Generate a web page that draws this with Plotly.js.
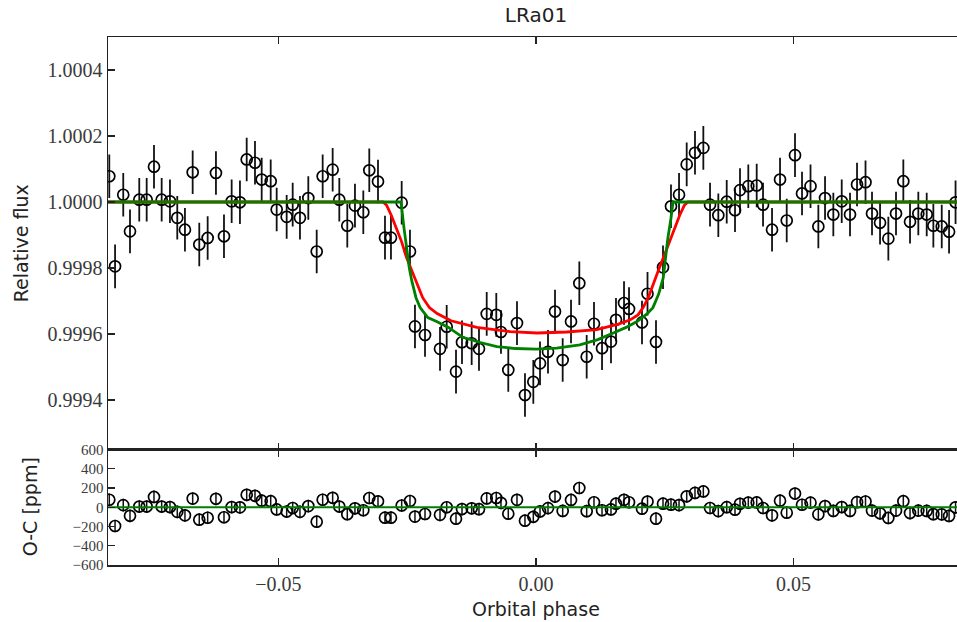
<!DOCTYPE html>
<html>
<head>
<meta charset="utf-8">
<script src="https://cdn.plot.ly/plotly-3.0.1.min.js"></script>
<style>
  html, body { margin: 0; padding: 0; overflow: hidden; background: #fff; }
  #chart { width: 964px; height: 622px; }
</style>
</head>
<body>
<div id="chart"></div>
<script>
// ---- data ----
const phase = [
  -0.08285, -0.08173, -0.08014, -0.07883, -0.07703, -0.07559, -0.07417, -0.07268, -0.07107, -0.06965,
  -0.06816, -0.06666, -0.06538, -0.06375, -0.06214, -0.06058, -0.05909, -0.05748, -0.05617, -0.05456,
  -0.05326, -0.05151, -0.05035, -0.04841, -0.04724, -0.04583, -0.04421, -0.04258, -0.04142, -0.03948,
  -0.03819, -0.03664, -0.03515, -0.03353, -0.03237, -0.03068, -0.02932, -0.02816, -0.02608, -0.02447,
  -0.02350, -0.02155, -0.01864, -0.01734, -0.01553, -0.01437, -0.01249, -0.01107, -0.00957, -0.00771,
  -0.00680, -0.00538, -0.00369, -0.00214, -0.00052, 0.00078, 0.00233, 0.00369, 0.00518, 0.00680,
  0.00841, 0.00984, 0.01126, 0.01282, 0.01456, 0.01553, 0.01709, 0.01806, 0.02058, 0.02165,
  0.02330, 0.02466, 0.02621, 0.02777, 0.02926, 0.03087, 0.03249, 0.03379, 0.03540, 0.03703,
  0.03864, 0.03961, 0.04122, 0.04285, 0.04408, 0.04583, 0.04738, 0.04868, 0.05029, 0.05165,
  0.05330, 0.05482, 0.05612, 0.05773, 0.05936, 0.06097, 0.06233, 0.06398, 0.06524, 0.06680,
  0.06841, 0.06990, 0.07132, 0.07262, 0.07423, 0.07586, 0.07715, 0.07878, 0.08020, 0.08146
];
const flux = [
  1.000078, 0.999805, 1.000022, 0.999911, 1.000007, 1.000007, 1.000107, 1.000007, 1.000002, 0.999952,
  0.999916, 1.000090, 0.999871, 0.999891, 1.000088, 0.999896, 1.000002, 0.999999, 1.000129, 1.000119,
  1.000068, 1.000063, 0.999977, 0.999955, 0.999992, 0.999952, 1.000012, 0.999850, 1.000078, 1.000098,
  1.000007, 0.999928, 0.999989, 0.999969, 1.000096, 1.000062, 0.999892, 0.999892, 0.999998, 0.999850,
  0.999623, 0.999597, 0.999555, 0.999622, 0.999486, 0.999575, 0.999572, 0.999555, 0.999661, 0.999658,
  0.999606, 0.999491, 0.999633, 0.999415, 0.999455, 0.999511, 0.999546, 0.999668, 0.999521, 0.999638,
  0.999754, 0.999531, 0.999631, 0.999557, 0.999577, 0.999643, 0.999694, 0.999676, 0.999635, 0.999722,
  0.999576, 0.999802, 0.999987, 1.000022, 1.000114, 1.000149, 1.000164, 0.999992, 0.999960, 1.000001,
  0.999975, 1.000036, 1.000048, 1.000050, 0.999992, 0.999916, 1.000068, 0.999944, 1.000142, 1.000026,
  1.000048, 0.999926, 1.000012, 0.999962, 1.000002, 0.999962, 1.000053, 1.000060, 0.999965, 0.999937,
  0.999889, 0.999965, 1.000063, 0.999940, 0.999965, 0.999962, 0.999928, 0.999926, 0.999910, 0.999999
];
// O-C residuals in ppm
const residual = [
  78, -195, 22, -89, 7, 7, 107, 7, 2, -48,
  -84, 90, -129, -109, 88, -104, 2, -1, 129, 119,
  68, 63, -23, -45, -8, -48, 12, -150, 78, 98,
  7, -72, -11, -31, 96, 62, -108, -108, 18, 65,
  -97, -70, -79, 0, -119, -19, -11, -20, 92, 96,
  46, -67, 77, -140, -99, -43, -9, 111, -38, 76,
  200, -41, 52, -31, -23, 37, 77, 52, -15, 59,
  -119, 37, 27, 22, 114, 149, 164, -8, -40, 1,
  -25, 36, 48, 50, -8, -84, 68, -56, 142, 26,
  48, -74, 12, -38, 2, -38, 53, 60, -35, -63,
  -111, -35, 63, -60, -35, -38, -72, -74, -90, -1
];
const fluxErr = 0.000066;   // relative flux
const residErr = 66;        // ppm

// transit models
const redPhase = [-0.0831, -0.0297, -0.0290, -0.0281, -0.0271, -0.0261, -0.0251, -0.0241, -0.0231, -0.0220,
  -0.0207, -0.0192, -0.0165, -0.0115, -0.0050, 0.0002, 0.0060, 0.0118, 0.0160, 0.0183,
  0.0198, 0.0208, 0.0218, 0.0227, 0.0237, 0.0247, 0.0257, 0.0266, 0.0279, 0.0288, 0.0295, 0.0831];
const redFlux = [1.0, 1.0, 0.99999, 0.99996, 0.99992, 0.99988, 0.99983, 0.99979, 0.99975, 0.99971,
  0.99968, 0.999662, 0.99964, 0.99962, 0.999607, 0.999603, 0.999606, 0.999613, 0.99963, 0.999643,
  0.999658, 0.99968, 0.99971, 0.99975, 0.99979, 0.99983, 0.99987, 0.99991, 0.99996, 0.99999, 1.0, 1.0];
const greenPhase = [-0.0831, -0.0262, -0.0257, -0.0251, -0.0246, -0.0241, -0.0233, -0.0225, -0.0210, -0.0193,
  -0.0170, -0.0142, -0.0110, -0.0076, -0.0040, 0.0001, 0.0040, 0.0085, 0.0120, 0.0150,
  0.0175, 0.0196, 0.0215, 0.0227, 0.0238, 0.0247, 0.0256, 0.0262, 0.0266, 0.0831];
const greenFlux = [1.0, 1.0, 0.99993, 0.99986, 0.99980, 0.99976, 0.99971, 0.99968, 0.99965, 0.999638,
  0.99962, 0.99959, 0.999575, 0.999562, 0.999556, 0.999554, 0.999557, 0.999567, 0.999583, 0.999603,
  0.99962, 0.999638, 0.99966, 0.99968, 0.99972, 0.99977, 0.99989, 0.99995, 1.0, 1.0];
const residModelPhase = [-0.0831, 0.0831];
const residModelValue = [0, 0];

// ticks
const xTickVals = [-0.05, 0.0, 0.05];
const xTickText = ["\u22120.05", "0.00", "0.05"];
const fluxTickVals = [0.9994, 0.9996, 0.9998, 1.0, 1.0002, 1.0004];
const fluxTickText = ["0.9994", "0.9996", "0.9998", "1.0000", "1.0002", "1.0004"];
const resTickVals = [-600, -400, -200, 0, 200, 400, 600];
const resTickText = ["\u2212600", "\u2212400", "\u2212200", "0", "200", "400", "600"];

// ---- plot ----
const tickFont = { family: "Liberation Serif, DejaVu Serif, serif", size: 20, color: "#3a3a3a" };
const smallTickFont = { family: "Liberation Serif, DejaVu Serif, serif", size: 15, color: "#3a3a3a" };
const labelFont = { family: "DejaVu Sans, sans-serif", size: 19, color: "#222" };
const markerStyle = { symbol: "circle-open", size: 11, color: "#000", line: { width: 1.7, color: "#000" } };

const traces = [
  { x: phase, y: flux, type: "scatter", mode: "markers", xaxis: "x", yaxis: "y",
    marker: markerStyle,
    error_y: { type: "constant", value: fluxErr, color: "#111", thickness: 1.8, width: 0 } },
  { x: redPhase, y: redFlux, type: "scatter", mode: "lines", xaxis: "x", yaxis: "y",
    line: { color: "#ff0000", width: 2.8 } },
  { x: greenPhase, y: greenFlux, type: "scatter", mode: "lines", xaxis: "x", yaxis: "y",
    line: { color: "#008000", width: 2.8 } },
  { x: phase, y: residual, type: "scatter", mode: "markers", xaxis: "x2", yaxis: "y2",
    marker: markerStyle,
    error_y: { type: "constant", value: residErr, color: "#111", thickness: 1.5, width: 0 } },
  { x: residModelPhase, y: residModelValue, type: "scatter", mode: "lines", xaxis: "x2", yaxis: "y2",
    line: { color: "#008000", width: 1.8 } }
];

const axisCommon = {
  showline: true, linecolor: "#222", linewidth: 1.5, mirror: "allticks",
  ticks: "inside", ticklen: 7, tickwidth: 1.3, tickcolor: "#222",
  showgrid: false, zeroline: false, tickfont: tickFont
};

const layout = {
  width: 964, height: 622,
  margin: { l: 108, r: 0, t: 37, b: 57 },
  paper_bgcolor: "#fff", plot_bgcolor: "#fff",
  showlegend: false,
  title: { text: "LRa01", font: { family: "DejaVu Sans, sans-serif", size: 20, color: "#222" },
           x: 0.5, xref: "paper", y: 1 - 15 / 622, yref: "container", yanchor: "middle" },
  xaxis: Object.assign({}, axisCommon, {
    domain: [0, 1], range: [-0.0831, 0.0831], anchor: "y",
    tickvals: xTickVals, ticktext: xTickText, showticklabels: false
  }),
  yaxis: Object.assign({}, axisCommon, {
    domain: [0.21875, 1], range: [0.99925, 1.0005], anchor: "x",
    tickvals: fluxTickVals, ticktext: fluxTickText
  }),
  xaxis2: Object.assign({}, axisCommon, {
    domain: [0, 1], range: [-0.0831, 0.0831], anchor: "y2",
    tickvals: xTickVals, ticktext: xTickText
  }),
  yaxis2: Object.assign({}, axisCommon, {
    domain: [0, 0.21875], range: [-600, 600], anchor: "x2",
    tickvals: resTickVals, ticktext: resTickText, tickfont: smallTickFont
  }),
  annotations: [
    { text: "Relative flux", xref: "paper", yref: "paper", x: -108 / 856 + 21 / 856, y: 0.21875 + (1 - 0.21875) / 2,
      xanchor: "center", yanchor: "middle", textangle: -90, showarrow: false, font: labelFont },
    { text: "O-C [ppm]", xref: "paper", yref: "paper", x: -108 / 856 + 30 / 856, y: 0.21875 / 2,
      xanchor: "center", yanchor: "middle", textangle: -90, showarrow: false, font: labelFont },
    { text: "Orbital phase", xref: "paper", yref: "paper", x: 0.5, y: -(609 - 565) / 528,
      xanchor: "center", yanchor: "middle", showarrow: false, font: labelFont }
  ]
};

Plotly.newPlot("chart", traces, layout, { staticPlot: true, displayModeBar: false });
</script>
</body>
</html>
